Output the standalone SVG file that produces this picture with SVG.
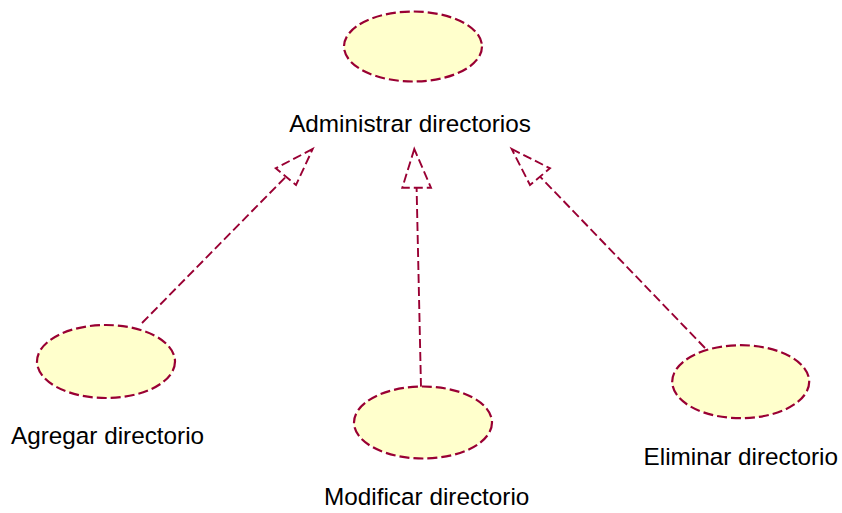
<svg xmlns="http://www.w3.org/2000/svg" width="842" height="513" viewBox="0 0 842 513">
  <style>
    .usecase { fill: #FFFFCC; stroke: #990033; stroke-width: 2.2; stroke-dasharray: 10 4; }
    .link { fill: none; stroke: #990033; stroke-width: 1.9; stroke-dasharray: 9 4; }
    .head { fill: #FFFFFF; stroke: #990033; stroke-width: 1.9; stroke-dasharray: 9 4; stroke-linejoin: miter; }
    .label { font-family: "Liberation Sans", Arial, sans-serif; font-size: 24.3px; fill: #000000; text-anchor: middle; }
  </style>
  <rect width="842" height="513" fill="#FFFFFF"/>

  <!-- generalization connectors -->
  <g id="connectors">
    <line class="link" x1="142" y1="323" x2="286" y2="176.6"/>
    <polygon class="head" points="312.7,149 275.7,168.3 296,185"/>
    <line class="link" x1="421" y1="387" x2="416.6" y2="187.7"/>
    <polygon class="head" points="414.3,149 402.3,187.7 431,187.7"/>
    <line class="link" x1="705" y1="348" x2="540" y2="176.6"/>
    <polygon class="head" points="511.7,149 550,168.3 530,185"/>
  </g>

  <g id="administrar">
    <ellipse class="usecase" cx="413" cy="46.5" rx="69" ry="35"/>
    <text class="label" x="410" y="131.5">Administrar directorios</text>
  </g>

  <g id="agregar">
    <ellipse class="usecase" cx="106" cy="361.5" rx="69" ry="36.5"/>
    <text class="label" x="107.5" y="444">Agregar directorio</text>
  </g>

  <g id="modificar">
    <ellipse class="usecase" cx="423" cy="422.5" rx="69" ry="36"/>
    <text class="label" x="426.7" y="505">Modificar directorio</text>
  </g>

  <g id="eliminar">
    <ellipse class="usecase" cx="740.7" cy="381.7" rx="68.5" ry="36.5"/>
    <text class="label" x="740.8" y="465">Eliminar directorio</text>
  </g>
</svg>
